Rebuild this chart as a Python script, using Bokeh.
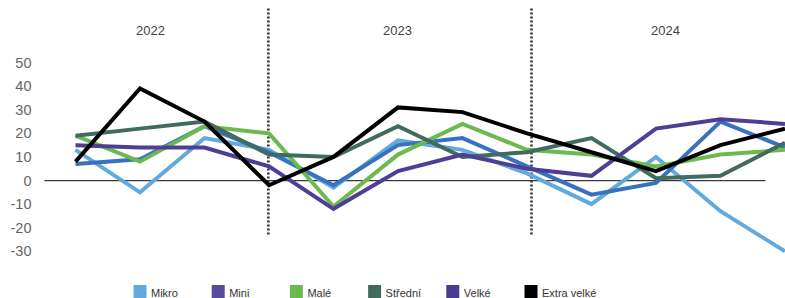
from bokeh.plotting import figure
from bokeh.models import Range1d
from bokeh.core.properties import value
from bokeh.embed import file_html
from bokeh.resources import INLINE

# ---------------- data ----------------
quarters = ["Q1 2022", "Q2 2022", "Q3 2022", "Q4 2022",
            "Q1 2023", "Q2 2023", "Q3 2023", "Q4 2023",
            "Q1 2024", "Q2 2024", "Q3 2024", "Q4 2024"]
years = ["2022", "2023", "2024"]
y_ticks = [50, 40, 30, 20, 10, 0, -10, -20, -30]

mikro = [13, -5, 18, 13, -3, 17, 13, 3, -10, 10, -13, -30]
mini = [7, 9, 23, 12, -2, 15, 18, 6, -6, -1, 25, 14]
male = [19, 8, 23, 20, -11, 11, 24, 13, 11, 6, 11, 13]
stredni = [19, 22, 25, 11, 10, 23, 10, 12, 18, 1, 2, 16]
velke = [15, 14, 14, 6, -12, 4, 11, 5, 2, 22, 26, 24]
extra_velke = [8, 39, 25, -2, 10, 31, 29, 20, 12, 4, 15, 22]

series_names = ["Mikro", "Mini", "Malé", "Střední", "Velké", "Extra velké"]
series_values = [mikro, mini, male, stredni, velke, extra_velke]
line_colors = ["#62a9dd", "#3872bf", "#6cba4f", "#426b5f", "#4e3f95", "#000000"]
legend_colors = ["#62a9dd", "#594a9c", "#6cba4f", "#426b5f", "#4b3c8f", "#000000"]

# ---------------- layout ----------------
W, H = 785, 298
OFF = 0
x_lo, x_hi = -1.163, 11.008
y_lo, y_hi = -50.0, 76.3


def dx(page_px):
    return x_lo + (page_px - OFF) / W * (x_hi - x_lo)


def dy(page_py):
    return y_hi - (page_py - OFF) / H * (y_hi - y_lo)


p = figure(width=W, height=H, output_backend="svg", toolbar_location=None,
           x_range=Range1d(x_lo, x_hi), y_range=Range1d(y_lo, y_hi),
           x_axis_type=None, y_axis_type=None, min_border=0,
           outline_line_color=None, background_fill_color="white",
           border_fill_color="white")
p.xgrid.visible = False
p.ygrid.visible = False

FONT = value("Liberation Sans")
xs = list(range(len(quarters)))

# zero line
p.segment(x0=[dx(44)], y0=[0], x1=[dx(765)], y1=[0], line_color="#3a3a3a", line_width=1.3)

# year dividers
for xd in [2.99, 7.07]:
    p.segment(x0=[xd], y0=[dy(8)], x1=[xd], y1=[dy(235)], line_color="#333333",
              line_width=2.6, line_dash=value("2 2"))

# year labels
p.text(x=[dx(150), dx(397), dx(665)], y=[dy(30)] * 3, text=years,
       text_font=FONT, text_font_size="13px", text_color="#444444",
       text_align="center", text_baseline="middle")

# y tick labels
p.text(x=[dx(31)] * len(y_ticks), y=y_ticks, text=[str(t) for t in y_ticks],
       text_font=FONT, text_font_size="14.5px", text_color="#666666",
       text_align="right", text_baseline="middle")

# series lines
for vals, col in zip(series_values, line_colors):
    p.line(xs, vals, line_color=col, line_width=4, line_join="miter")

# legend
sq_left = [133 + 78.2 * i for i in range(len(series_names))]
p.rect(x=[dx(s + 6.5) for s in sq_left], y=[dy(291)] * len(sq_left), width=13, height=13,
       width_units="screen", height_units="screen", fill_color=legend_colors,
       line_color=None)
p.text(x=[dx(s + 17.5) for s in sq_left], y=[dy(292)] * len(sq_left), text=series_names,
       text_font=FONT, text_font_size="11px", text_color="#333333",
       text_align="left", text_baseline="middle")

open("out.html", "w").write(file_html(p, INLINE))
